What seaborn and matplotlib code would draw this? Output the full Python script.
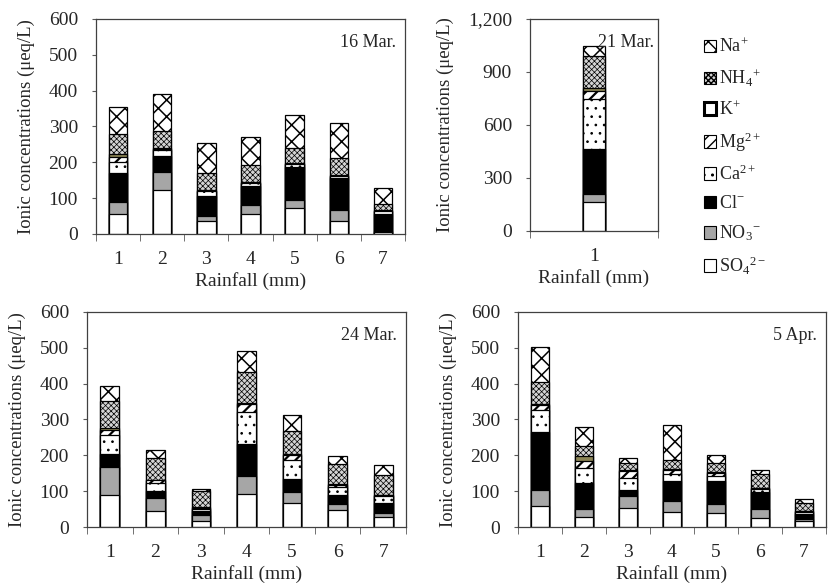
import numpy as np
import pandas as pd
import seaborn as sns
import matplotlib.pyplot as plt
from matplotlib.patches import Patch
from matplotlib.ticker import MultipleLocator, FuncFormatter

# ions from bottom of the stack to the top
ions = ['SO4', 'NO3', 'Cl', 'Ca', 'Mg', 'K', 'NH4', 'Na']
ion_labels = ['SO$_4$$^{2-}$', 'NO$_3$$^{-}$', 'Cl$^{-}$', 'Ca$^{2+}$',
              'Mg$^{2+}$', 'K$^{+}$', 'NH$_4$$^{+}$', 'Na$^{+}$']

# rows follow `ions`, columns are the rainfall samples (ueq/L)
mar16 = [[56, 123, 36, 56, 73, 37, 5],
         [33, 51, 15, 26, 22, 31, 4],
         [81, 43, 56, 51, 92, 89, 47],
         [31, 17, 13, 9, 7, 5, 7],
         [14, 3, 1, 1, 2, 1, 2],
         [7, 4, 2, 2, 2, 1, 2],
         [58, 45, 48, 47, 43, 49, 17],
         [73, 104, 84, 79, 91, 98, 45]]
mar21 = [[166], [43], [255], [283], [47], [14], [184], [55]]
mar24 = [[89, 46, 18, 93, 66, 48, 28],
         [78, 34, 15, 49, 33, 17, 11],
         [38, 21, 13, 91, 36, 24, 28],
         [52, 22, 5, 89, 51, 24, 19],
         [15, 7, 3, 22, 14, 5, 2],
         [4, 2, 2, 3, 3, 3, 2],
         [75, 61, 45, 86, 64, 56, 56],
         [43, 21, 6, 57, 46, 22, 27]]
apr5 = [[58, 28, 53, 41, 38, 26, 16],
        [45, 21, 33, 31, 27, 23, 5],
        [163, 75, 18, 56, 63, 49, 14],
        [60, 41, 33, 21, 14, 7, 7],
        [14, 20, 20, 10, 9, 3, 2],
        [3, 13, 2, 2, 3, 2, 2],
        [61, 29, 20, 27, 26, 37, 21],
        [98, 52, 14, 96, 22, 12, 12]]

colors = ['white', '#a6a6a6', 'black', 'white', 'white', '#8b8455', '#d4d4d4', 'white']
hatches = [None, None, None, '..', '///', None, 'xxxxxx', 'xx']
hatch_lw = [0.7, 0.7, 0.7, 0.7, 1.6, 0.7, 0.5, 1.1]

sns.set_style('ticks')
plt.rcParams['font.family'] = ['Liberation Serif', 'DejaVu Serif']
plt.rcParams['mathtext.fontset'] = 'custom'
plt.rcParams['mathtext.rm'] = 'Liberation Serif'
plt.rcParams['mathtext.it'] = 'Liberation Serif:italic'

fig = plt.figure(figsize=(8.31, 5.87), dpi=100)


def panel(rect, data, title, ymax, step, width):
    ax = fig.add_axes(rect)
    vals = np.array(data)
    cum = vals.cumsum(axis=0)
    cats = [str(i + 1) for i in range(vals.shape[1])]
    # draw cumulative totals from the top ion down, so each lower layer covers the base of the one above
    for i in reversed(range(len(ions))):
        df = pd.DataFrame({'rain': cats, 'conc': cum[i]})
        n_before = len(ax.patches)
        with plt.rc_context({'hatch.linewidth': hatch_lw[i]}):
            sns.barplot(data=df, x='rain', y='conc', ax=ax, color=colors[i], hatch=hatches[i],
                        edgecolor='black', linewidth=0.9, width=width, saturation=1, errorbar=None)
        for p in ax.patches[n_before:]:
            if hasattr(p, 'set_hatch_linewidth'):
                p.set_hatch_linewidth(hatch_lw[i])
    n = len(cats)
    ax.set_xlim(-0.5, n - 0.5)
    ax.set_ylim(0, ymax)
    ax.yaxis.set_major_locator(MultipleLocator(step))
    ax.yaxis.set_major_formatter(FuncFormatter(lambda v, p: f'{int(v):,}'))
    ax.set_xticks(np.arange(-0.5, n, 1.0), minor=True)
    ax.tick_params(axis='x', which='major', length=0, labelsize=14, pad=12)
    ax.tick_params(axis='x', which='minor', length=5, color='#595959', direction='out')
    ax.tick_params(axis='y', length=3, color='#595959', labelsize=14, pad=10)
    for s in ax.spines.values():
        s.set_color('#404040')
        s.set_linewidth(0.9)
    ax.set_xlabel('Rainfall (mm)', fontsize=14, labelpad=3)
    ax.set_ylabel('Ionic concentrations (μeq/L)', fontsize=13.5, labelpad=10)
    ax.text(0.97, 0.93, title, transform=ax.transAxes, ha='right', va='top', fontsize=13)
    return ax


panel([0.1155, 0.6014, 0.372, 0.3663], mar16, '16 Mar.', 600, 100, 0.42)
panel([0.6378, 0.6065, 0.154, 0.3612], mar21, '21 Mar.', 1200, 300, 0.17)
panel([0.1047, 0.1022, 0.3839, 0.3663], mar24, '24 Mar.', 600, 100, 0.41)
panel([0.6233, 0.1022, 0.3706, 0.3663], apr5, '5 Apr.', 600, 100, 0.41)

handles = []
for i in reversed(range(len(ions))):
    if ions[i] == 'K':
        h = Patch(facecolor='white', edgecolor='black', linewidth=2.2, label=ion_labels[i])
    else:
        h = Patch(facecolor=colors[i], hatch=hatches[i], edgecolor='black', linewidth=0.8,
                  label=ion_labels[i])
    handles.append(h)
fig.legend(handles=handles, loc='upper left', bbox_to_anchor=(0.838, 0.948), frameon=False,
           fontsize=13, handlelength=0.7, handleheight=0.7, handletextpad=0.15,
           labelspacing=0.62, borderaxespad=0)

fig.savefig('out.png', dpi=100)
